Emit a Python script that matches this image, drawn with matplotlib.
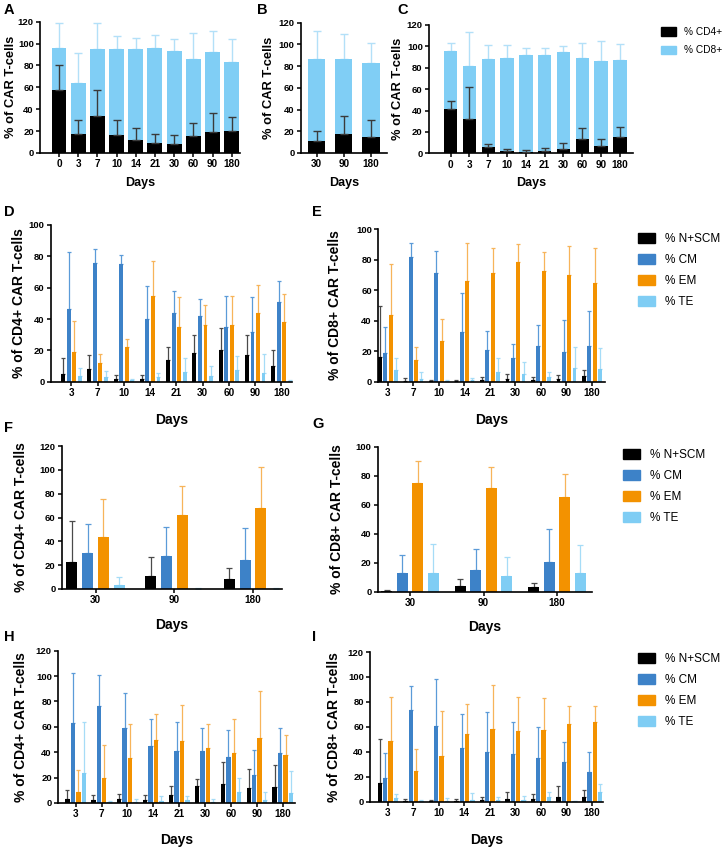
import numpy as np
import matplotlib.pyplot as plt
from matplotlib.patches import Patch

plt.rcParams['font.family'] = ['Liberation Sans', 'DejaVu Sans']

W, H = 724, 849

# ---------------- data: CD4 / CD8 composition (A, B, C) ----------------
days_ac = ['0', '3', '7', '10', '14', '21', '30', '60', '90', '180']
days_b = ['30', '90', '180']

a_cd4 = [58, 17, 33.5, 16.5, 12, 9, 8.5, 15.5, 19.5, 20.5]
a_cd4_sd = [22, 13, 24.5, 13.5, 11, 8.5, 7.5, 11.5, 17.5, 12.5]
a_cd8 = [38, 47, 62, 78.5, 83, 87, 84.5, 70.5, 73, 62.5]
a_cd8_sd = [23, 27, 23.5, 11.5, 10.5, 11.5, 11.5, 23.5, 19, 21.5]

b_cd4 = [10.7, 17.4, 15]
b_cd4_sd = [9.8, 16.3, 15]
b_cd8 = [76.3, 69.1, 68]
b_cd8_sd = [25.5, 23, 18]

c_cd4 = [41, 32.5, 6, 2, 1.5, 2, 4, 13, 7, 15]
c_cd4_sd = [7.5, 29.5, 3, 1.8, 1.3, 2.7, 5.3, 10.8, 6.8, 9.6]
c_cd8 = [54.4, 48.7, 82.3, 87.3, 90.8, 90.3, 90.5, 76.3, 79.1, 71.8]
c_cd8_sd = [7.6, 32.5, 13.1, 12.1, 6.6, 6.6, 5.9, 13.7, 18.6, 15.5]

# ---------------- data: memory subsets (D - I) ----------------
days_long = ['3', '7', '10', '14', '21', '30', '60', '90', '180']
days_fg = ['30', '90', '180']

d_n = [5, 8, 2, 2, 14, 18, 20, 17, 10]
d_n_sd = [10, 9, 2, 2.5, 8, 12, 14, 13, 10]
d_cm = [46.5, 76, 75, 40, 44, 42, 35, 32, 51]
d_cm_sd = [36, 9, 6, 21, 14, 11, 20, 22, 13]
d_em = [19, 12, 22, 55, 35, 36, 36, 44, 38]
d_em_sd = [20, 5.5, 5.5, 22, 19, 13, 19, 18, 18]
d_te = [3.5, 3, 1, 3, 6, 3.5, 7.5, 5.5, 0.5]
d_te_sd = [5.5, 4, 0.5, 2.5, 9, 6.5, 9, 12, 0.5]

e_n = [16, 0.7, 0.5, 0.3, 0.8, 1.5, 1, 1.8, 3.7]
e_n_sd = [34, 2, 0.5, 0.5, 2, 3.5, 1.8, 2.6, 4]
e_cm = [19, 82, 71.5, 32.5, 20.5, 15.3, 23.4, 19.3, 23.6]
e_cm_sd = [17, 9, 14.5, 25.5, 13, 9.7, 13.8, 21, 23]
e_em = [44, 14.5, 27, 66, 71.5, 78.8, 72.9, 70, 64.6]
e_em_sd = [33, 8, 14, 25, 16, 11.6, 12.4, 19.3, 23]
e_te = [7.5, 1.5, 0.5, 1, 6.6, 5, 3.3, 8.8, 8.3]
e_te_sd = [8, 5, 0.5, 1.5, 8.7, 8, 3.3, 14, 14]

f_n = [22.3, 10.6, 8.4]
f_n_sd = [34.4, 15.9, 9.2]
f_cm = [30.1, 27.9, 24.6]
f_cm_sd = [24.6, 24, 26.5]
f_em = [43.5, 62.2, 67.8]
f_em_sd = [31.9, 24.6, 34.2]
f_te = [3.6, 0.3, 0.3]
f_te_sd = [6.4, 0.3, 0.3]

g_n = [0.5, 3.9, 3]
g_n_sd = [0.4, 4.6, 3.2]
g_cm = [13.1, 14.7, 20.5]
g_cm_sd = [12.2, 15, 22.5]
g_em = [74.7, 71.3, 65]
g_em_sd = [15.6, 14.4, 16.1]
g_te = [12.6, 10.8, 13.1]
g_te_sd = [20.3, 12.9, 19.1]

h_n = [3.4, 2.6, 3.1, 2.3, 6.5, 13.4, 14.7, 11.6, 12.4]
h_n_sd = [6.9, 3.9, 3.9, 4.2, 6.9, 5.5, 17.6, 14.8, 17.9]
h_cm = [63.3, 76.2, 59.4, 45.2, 40.8, 40.8, 36.2, 22, 39.5]
h_cm_sd = [39.3, 24.5, 27.2, 20.7, 23.3, 18.6, 21.4, 20.1, 19.7]
h_em = [9, 19.9, 35.4, 49.9, 49.1, 43.4, 39.5, 50.9, 37.6]
h_em_sd = [16.8, 25.8, 27.1, 20.4, 28.4, 19.1, 26.9, 37, 15.6]
h_te = [23.3, 1, 0.5, 1.3, 2, 0.5, 8.5, 2, 7.9]
h_te_sd = [40.8, 0.3, 2.9, 3.9, 3.9, 2.6, 10.9, 7, 17.1]

i_n = [15.3, 0.8, 0.5, 0.8, 1.3, 1.8, 1.8, 3.4, 3.9]
i_n_sd = [34.7, 1, 0.5, 1, 2.6, 5.6, 4, 9.2, 5.8]
i_cm = [19, 73.7, 61, 43.4, 39.5, 38.2, 35, 32.1, 23.7]
i_cm_sd = [20, 18.9, 37.2, 27.1, 32.1, 25.7, 24.7, 16.1, 16.3]
i_em = [49, 24.5, 36.8, 54, 58.4, 56.6, 57.4, 62.6, 63.7]
i_em_sd = [35.2, 17.6, 36.1, 24.4, 35, 27.6, 26, 14.5, 13.1]
i_te = [2.6, 0.3, 0.8, 1.3, 1.3, 1.3, 3.9, 0.3, 7.4]
i_te_sd = [3.2, 0.7, 2.4, 5.3, 2.6, 3.4, 4, 0.2, 6.5]

# ---------------- styling ----------------
BLACK = '#000000'
CM = '#3d82c8'
EM = '#f39200'
TE = '#7fcdf4'
CD8 = '#80cef5'
ERR = {BLACK: '#4a4a4a', CM: '#5b9bd8', EM: '#f7b45a', TE: '#a6dcf7'}

YTICK_FS = 6.8
XTICK_FS = 7.2
YLAB_FS = 10
XLAB_FS = 10


def make_axes(rect):
    left, top, right, bottom = rect
    ax = plt.gcf().add_axes([left / W, 1 - bottom / H, (right - left) / W, (bottom - top) / H])
    ax.spines['top'].set_visible(False)
    ax.spines['right'].set_visible(False)
    for s in ['left', 'bottom']:
        ax.spines[s].set_linewidth(1.2)
    ax.tick_params(axis='both', width=1.1, length=3, pad=1.5)
    ax.tick_params(axis='y', labelsize=YTICK_FS)
    ax.tick_params(axis='x', labelsize=XTICK_FS)
    return ax


def finish(ax, rect, ylabel, ylab_x, xlab_y, xlab_fs=XLAB_FS, ylab_fs=YLAB_FS):
    left, top, right, bottom = rect
    ax.set_ylabel(ylabel, fontsize=ylab_fs, fontweight='bold', va='center')
    ax.set_xlabel('Days', fontsize=xlab_fs, fontweight='bold', va='center')
    ax.yaxis.set_label_coords((ylab_x - left) / (right - left), 0.5)
    ax.xaxis.set_label_coords(0.5, (bottom - xlab_y) / (bottom - top))
    for lab in ax.get_xticklabels() + ax.get_yticklabels():
        lab.set_fontweight('bold')


def stacked(rect, days, cd4, cd4_sd, cd8, cd8_sd, width, xlim, ylab_x, xlab_y):
    ax = make_axes(rect)
    x = np.arange(len(days))
    cd4 = np.array(cd4)
    cd8 = np.array(cd8)
    ax.bar(x, cd4, width, color=BLACK, zorder=3)
    ax.bar(x, cd8, width, bottom=cd4, color=CD8, zorder=2)
    ax.errorbar(x, cd4, yerr=[np.zeros(len(x)), cd4_sd], fmt='none',
                ecolor='#3a3a3a', elinewidth=1, capsize=2.6, capthick=1, zorder=4)
    ax.errorbar(x, cd4 + cd8, yerr=[np.zeros(len(x)), cd8_sd], fmt='none',
                ecolor='#b3e0f8', elinewidth=1, capsize=2.6, capthick=1, zorder=1)
    ax.set_ylim(0, 120)
    ax.set_yticks(range(0, 121, 20))
    ax.set_xlim(*xlim)
    ax.set_xticks(x)
    ax.set_xticklabels(days)
    finish(ax, rect, '% of CAR T-cells', ylab_x, xlab_y, xlab_fs=9, ylab_fs=9.3)
    return ax


def grouped(rect, days, series, ymax, step, width, off, xlim, ylabel, ylab_x, xlab_y, capsize=1.2):
    ax = make_axes(rect)
    x = np.arange(len(days))
    colors = [BLACK, CM, EM, TE]
    for k, ((mean, sd), col) in enumerate(zip(series, colors)):
        xs = x + (k - 1.5) * off
        ax.bar(xs, mean, width, color=col, zorder=2)
        ax.errorbar(xs, mean, yerr=[np.zeros(len(x)), sd], fmt='none',
                    ecolor=ERR[col], elinewidth=0.9, capsize=capsize, capthick=0.9, zorder=1)
    ax.set_ylim(0, ymax)
    ax.set_yticks(range(0, ymax + 1, step))
    ax.set_xlim(*xlim)
    ax.set_xticks(x)
    ax.set_xticklabels(days)
    finish(ax, rect, ylabel, ylab_x, xlab_y)
    return ax


fig = plt.figure(figsize=(W / 100, H / 100), dpi=100)

# row 1
stacked((40, 21.7, 240, 153), days_ac, a_cd4, a_cd4_sd, a_cd8, a_cd8_sd,
        0.78, (-0.99, 9.43), 11, 183)
stacked((300.7, 22.7, 386.7, 153), days_b, b_cd4, b_cd4_sd, b_cd8, b_cd8_sd,
        0.65, (-0.59, 2.59), 269, 183)
stacked((429, 25, 633, 153.3), days_ac, c_cd4, c_cd4_sd, c_cd8, c_cd8_sd,
        0.71, (-1.15, 9.7), 398, 183)

# row 2
grouped((50.7, 225, 292, 381.7), days_long,
        [(d_n, d_n_sd), (d_cm, d_cm_sd), (d_em, d_em_sd), (d_te, d_te_sd)],
        100, 20, 0.15, 0.21, (-0.79, 8.4), '% of CD4+ CAR T-cells', 19, 420)
grouped((378, 229.3, 605, 381.7), days_long,
        [(e_n, e_n_sd), (e_cm, e_cm_sd), (e_em, e_em_sd), (e_te, e_te_sd)],
        100, 20, 0.15, 0.21, (-0.39, 8.51), '% of CD8+ CAR T-cells', 335, 420)

# row 3
grouped((61.7, 446, 282, 589), days_fg,
        [(f_n, f_n_sd), (f_cm, f_cm_sd), (f_em, f_em_sd), (f_te, f_te_sd)],
        120, 20, 0.14, 0.2, (-0.43, 2.37), '% of CD4+ CAR T-cells', 21, 625, capsize=2.5)
grouped((377.7, 446.7, 591.7, 591.7), days_fg,
        [(g_n, g_n_sd), (g_cm, g_cm_sd), (g_em, g_em_sd), (g_te, g_te_sd)],
        100, 20, 0.15, 0.21, (-0.44, 2.47), '% of CD8+ CAR T-cells', 337, 627, capsize=2.5)

# row 4
grouped((58, 650.7, 295, 803), days_long,
        [(h_n, h_n_sd), (h_cm, h_cm_sd), (h_em, h_em_sd), (h_te, h_te_sd)],
        120, 20, 0.17, 0.21, (-0.68, 8.47), '% of CD4+ CAR T-cells', 21, 840)
grouped((370, 652, 603, 801.7), days_long,
        [(i_n, i_n_sd), (i_cm, i_cm_sd), (i_em, i_em_sd), (i_te, i_te_sd)],
        120, 20, 0.17, 0.21, (-0.7, 8.43), '% of CD8+ CAR T-cells', 334, 840)

# panel letters
for letter, px, py in [('A', 4, 10), ('B', 257, 10), ('C', 397, 10),
                       ('D', 4, 212), ('E', 312, 212), ('F', 4, 428),
                       ('G', 312, 424), ('H', 4, 637), ('I', 312, 637)]:
    fig.text(px / W, 1 - py / H, letter, fontsize=10.5, fontweight='bold', va='center', ha='left')

# legends
leg_kw = dict(loc='upper left', frameon=False, handlelength=1.45, handleheight=0.85,
              handletextpad=0.8, borderaxespad=0, borderpad=0)
fig.legend([Patch(color=BLACK), Patch(color=CD8)], ['% CD4+', '% CD8+'],
           bbox_to_anchor=(661 / W, 1 - 27 / H), fontsize=7.3, labelspacing=0.8, **leg_kw)

sub_handles = [Patch(color=c) for c in [BLACK, CM, EM, TE]]
sub_labels = ['% N+SCM', '% CM', '% EM', '% TE']
for yy, xx in [(233, 638), (449, 623), (653, 638)]:
    fig.legend(sub_handles, sub_labels, bbox_to_anchor=(xx / W, 1 - yy / H),
               fontsize=8.5, labelspacing=0.76, **leg_kw)

fig.savefig('out.png', dpi=100)
